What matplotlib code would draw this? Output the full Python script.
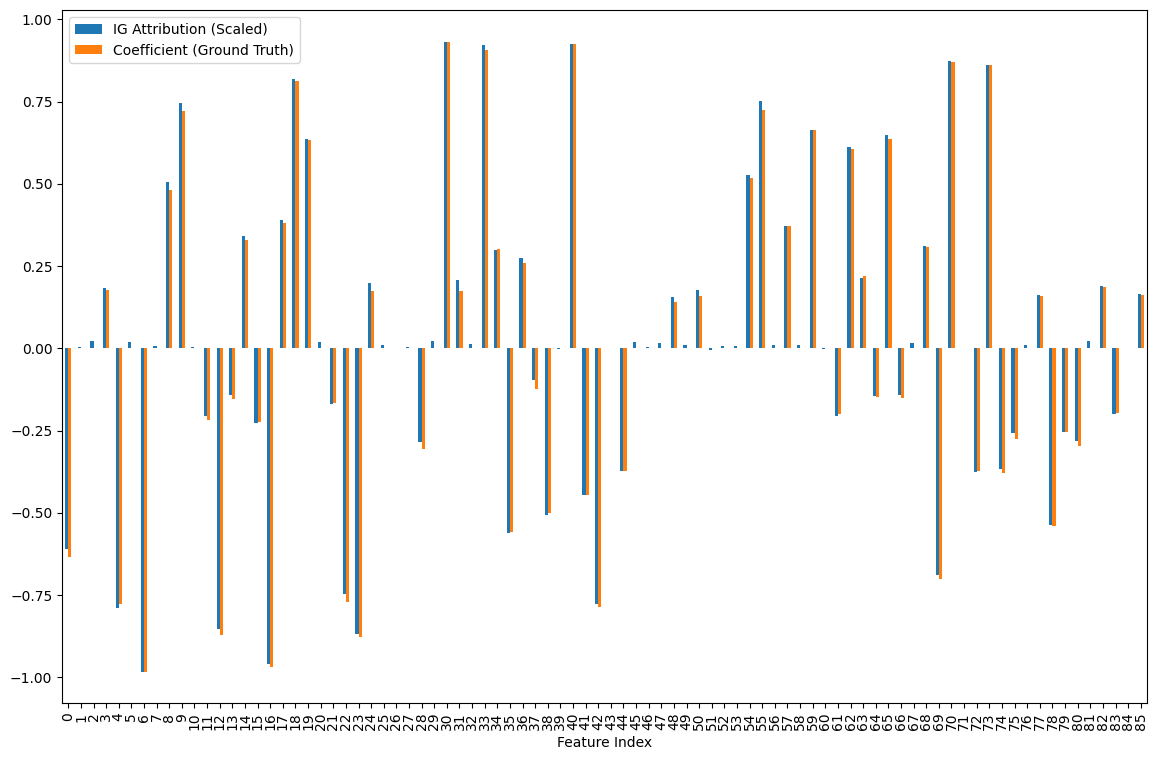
import matplotlib
matplotlib.use("Agg")
import matplotlib.pyplot as plt
import numpy as np
import pandas as pd

# values
feature_index = list(range(86))
ig_attribution = [
    -0.610, 0.003, 0.024, 0.185, -0.789, 0.021, -0.982, 0.006, 0.505, 0.745,
    0.003, -0.204, -0.854, -0.143, 0.343, -0.228, -0.960, 0.389, 0.820, 0.638,
    0.020, -0.170, -0.745, -0.869, 0.198, 0.009, 0.000, 0.003, -0.283, 0.022,
    0.933, 0.207, 0.015, 0.921, 0.298, -0.562, 0.274, -0.097, -0.507, -0.003,
    0.927, -0.444, -0.778, 0.000, -0.373, 0.021, 0.003, 0.018, 0.155, 0.012,
    0.179, -0.006, 0.006, 0.006, 0.526, 0.751, 0.009, 0.371, 0.009, 0.665,
    -0.003, -0.204, 0.611, 0.213, -0.146, 0.650, -0.143, 0.018, 0.310, -0.690,
    0.875, 0.000, -0.377, 0.863, -0.365, -0.258, 0.009, 0.161, -0.538, -0.255,
    -0.280, 0.024, 0.191, -0.198, 0.000, 0.167,
]
coefficient = [
    -0.635, 0.0, 0.0, 0.177, -0.778, 0.0, -0.982, 0.0, 0.483, 0.723,
    0.0, -0.216, -0.872, -0.155, 0.331, -0.225, -0.969, 0.380, 0.812, 0.635,
    0.0, -0.167, -0.772, -0.878, 0.174, 0.0, 0.0, 0.0, -0.307, 0.0,
    0.933, 0.174, 0.0, 0.906, 0.301, -0.559, 0.259, -0.122, -0.501, 0.0,
    0.927, -0.444, -0.787, 0.0, -0.373, 0.0, 0.0, 0.0, 0.140, 0.0,
    0.158, 0.0, 0.0, 0.0, 0.517, 0.724, 0.0, 0.371, 0.0, 0.665,
    0.0, -0.198, 0.605, 0.219, -0.149, 0.638, -0.152, 0.0, 0.307, -0.702,
    0.872, 0.0, -0.374, 0.863, -0.380, -0.276, 0.0, 0.158, -0.541, -0.255,
    -0.295, 0.0, 0.188, -0.195, 0.0, 0.161,
]

df = pd.DataFrame({
    "IG Attribution (Scaled)": ig_attribution,
    "Coefficient (Ground Truth)": coefficient,
}, index=feature_index)

fig, ax = plt.subplots(figsize=(11.57, 7.6), dpi=100)
df.plot.bar(ax=ax)
ax.set_xlabel("Feature Index")
ax.legend(loc="upper left")
plt.subplots_adjust(left=0.0536, right=0.9914, top=0.9868, bottom=0.075)
plt.savefig("out.png", dpi=100)
